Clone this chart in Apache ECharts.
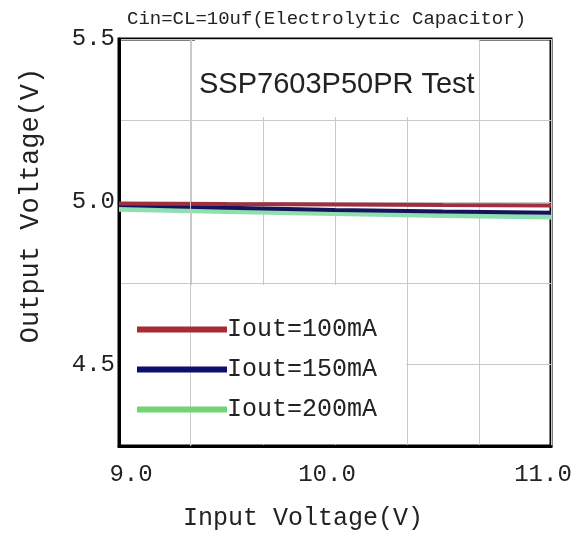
<!DOCTYPE html>
<html>
<head>
<meta charset="utf-8">
<script src="https://cdn.jsdelivr.net/npm/echarts@6/dist/echarts.min.js"></script>
<style>html,body{margin:0;padding:0;background:#fff}#c{width:586px;height:539px}</style>
</head>
<body>
<div id="c"></div>
<script>
var inputVoltage = [9.0, 9.5, 10.0, 10.5, 11.0];
var iout100 = [4.995, 4.993, 4.992, 4.990, 4.989];
var iout150 = [4.990, 4.982, 4.975, 4.970, 4.966];
var iout200 = [4.977, 4.970, 4.964, 4.958, 4.953];
var seriesNames = ['Iout=100mA', 'Iout=150mA', 'Iout=200mA'];
var xTickLabels = ['9.0', '10.0', '11.0'];
var yTickLabels = ['4.5', '5.0', '5.5'];

function pairs(xs, ys) { return xs.map(function (x, i) { return [x, ys[i]]; }); }

var chart = echarts.init(document.getElementById('c'), null, { renderer: 'canvas' });
var mono = 'Liberation Mono';
var txt = '#222';
var gridCol = '#c9c9c9';

chart.setOption({
  animation: false,
  backgroundColor: '#fff',
  title: [
    { text: 'Cin=CL=10uf(Electrolytic Capacitor)', left: 127, top: 9,
      textStyle: { fontFamily: mono, fontSize: 19, fontWeight: 'normal', color: txt }, padding: 0 },
    { text: 'SSP7603P50PR Test', left: 195, top: 40, backgroundColor: '#fff',
      padding: [30, 4, 18, 4],
      textStyle: { fontFamily: 'Liberation Sans', fontSize: 29, fontWeight: 'normal', color: '#222' } }
  ],
  grid: { left: 119, right: 35, top: 39, bottom: 93, show: true, borderColor: '#000', borderWidth: 3, backgroundColor: 'transparent' },
  legend: {
    orient: 'vertical', left: 132, top: 312, itemWidth: 90, itemHeight: 6, itemGap: 15, icon: 'rect',
    z: 10,
    textStyle: { fontFamily: mono, fontSize: 25, color: txt, padding: [0, 0, 0, -5] },
    data: seriesNames
  },
  graphic: [
    { type: 'rect', z: 1, silent: true, shape: { x: 121, y: 285, width: 285, height: 159 }, style: { fill: '#fff' } }
  ],
  xAxis: {
    type: 'value', min: 9, max: 11, interval: 1 / 3,
    name: 'Input Voltage(V)', nameLocation: 'middle', nameGap: 60,
    nameTextStyle: { fontFamily: mono, fontSize: 25, color: txt, padding: [0, 64, 0, 0] },
    axisLine: { show: true, lineStyle: { color: '#000', width: 3 } },
    axisTick: { show: false },
    splitLine: { show: true, lineStyle: { color: gridCol, width: 1 } },
    axisLabel: {
      margin: 17, fontFamily: mono, fontSize: 24, color: txt,
      rich: {
        l: { fontFamily: mono, fontSize: 24, color: txt, padding: [0, 0, 0, 24] },
        r: { fontFamily: mono, fontSize: 24, color: txt, padding: [0, 16, 0, 0] }
      },
      formatter: function (v) {
        for (var i = 0; i < xTickLabels.length; i++) {
          if (Math.abs(parseFloat(xTickLabels[i]) - v) < 1e-6) return (i === 0 ? '{l|' : '{r|') + xTickLabels[i] + '}';
        }
        return '';
      }
    }
  },
  yAxis: {
    type: 'value', min: 4.25, max: 5.5, interval: 0.25,
    name: 'Output Voltage(V)', nameLocation: 'middle', nameGap: 75,
    nameTextStyle: { fontFamily: mono, fontSize: 27, color: txt, padding: [0, 0, 0, 74] },
    axisLine: { show: true, lineStyle: { color: '#000', width: 3 } },
    axisTick: { show: false },
    splitLine: { show: true, lineStyle: { color: gridCol, width: 1 } },
    axisLabel: {
      margin: 4, fontFamily: mono, fontSize: 24, color: txt,
      formatter: function (v) {
        for (var i = 0; i < yTickLabels.length; i++) { if (Math.abs(parseFloat(yTickLabels[i]) - v) < 1e-6) return yTickLabels[i]; }
        return '';
      }
    }
  },
  series: [
    { name: seriesNames[0], type: 'line', z: 4, data: pairs(inputVoltage, iout100), showSymbol: false, symbol: 'none',
      color: '#a82a35', lineStyle: { width: 4, color: '#a03040' },
      markLine: { silent: true, symbol: 'none', label: { show: false }, lineStyle: { color: gridCol, width: 1, type: 'solid' }, data: [{ xAxis: 9 + 1 / 3 }] } },
    { name: seriesNames[1], type: 'line', z: 3, data: pairs(inputVoltage, iout150), showSymbol: false, symbol: 'none',
      color: '#0e0e6e', lineStyle: { width: 4, color: '#14145a' } },
    { name: seriesNames[2], type: 'line', z: 2, data: pairs(inputVoltage, iout200), showSymbol: false, symbol: 'none',
      color: '#74d474', lineStyle: { width: 5, color: '#8fe0b0' } }
  ]
});
</script>
</body>
</html>
